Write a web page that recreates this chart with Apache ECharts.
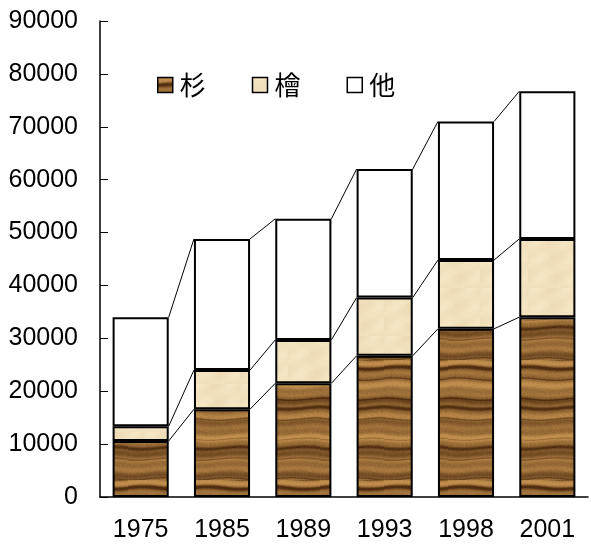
<!DOCTYPE html>
<html>
<head>
  <meta charset="utf-8">
  <title>ECharts</title>
  <script src="https://cdn.jsdelivr.net/npm/echarts@6/dist/echarts.min.js"></script>
</head>
<style>
  * { padding: 0; margin: 0; }
  #main { width: 591px; height: 544px; background: #fff; }
</style>
<body>
  <div id="main"></div>
  <script type="text/javascript">
    // data
    var years = ['1975', '1985', '1989', '1993', '1998', '2001'];
    var sugi = [10600, 16600, 21500, 26700, 31800, 34000];
    var hinoki = [2800, 7400, 8200, 11000, 13000, 14800];
    var other = [20600, 24800, 22900, 24300, 26200, 27900];

    // small deterministic noise for textures
    function hash(n) {
      var s = Math.sin(n * 127.1 + 311.7) * 43758.5453;
      return s - Math.floor(s);
    }

    // wood grain texture (杉)
    function woodPattern() {
      var c = document.createElement('canvas');
      c.width = 64; c.height = 120;
      var ctx = c.getContext('2d');
      for (var y = 0; y < c.height; y++) {
        for (var x = 0; x < c.width; x++) {
          var yy = y + 1.2 * Math.sin(x / 11 + y / 25);
          var band = 0.6 + 0.15 * Math.sin(yy / 1.7) + 0.18 * Math.sin(yy / 4.1 + 1.3) + 0.1 * Math.sin(yy / 9.5);
          var dark = Math.pow(Math.max(0, Math.sin(yy / 6.37 + 0.4)), 20) * 0.7 +
                     Math.pow(Math.max(0, Math.sin(yy / 3.18 + 2.0)), 30) * 0.35;
          var n = hash(x * 0.13 + y * 7.1) * 0.12;
          var k = Math.min(1, Math.max(0, band + n - dark));
          var r = Math.round(80 + 112 * k);
          var g = Math.round(45 + 97 * k);
          var b = Math.round(15 + 62 * k);
          ctx.fillStyle = 'rgb(' + r + ',' + g + ',' + b + ')';
          ctx.fillRect(x, y, 1, 1);
        }
      }
      return c;
    }

    // light beige mottled texture (檜)
    function beigePattern() {
      var c = document.createElement('canvas');
      c.width = 48; c.height = 48;
      var ctx = c.getContext('2d');
      for (var y = 0; y < c.height; y++) {
        for (var x = 0; x < c.width; x++) {
          var n = hash(x * 3.7 + y * 11.3) * 0.5 + 0.5 * Math.sin(x / 5 + y / 7) * Math.cos(y / 6);
          var r = Math.round(240 + 6 * n);
          var g = Math.round(222 + 10 * n);
          var b = Math.round(186 + 14 * n);
          ctx.fillStyle = 'rgb(' + r + ',' + g + ',' + b + ')';
          ctx.fillRect(x, y, 1, 1);
        }
      }
      return c;
    }

    var woodFill = { image: woodPattern(), repeat: 'repeat' };
    var beigeFill = { image: beigePattern(), repeat: 'repeat' };

    // cumulative tops for series lines
    var cum1 = sugi.slice();
    var cum2 = sugi.map(function (v, i) { return v + hinoki[i]; });
    var cum3 = cum2.map(function (v, i) { return v + other[i]; });
    var lineData = [];
    [cum1, cum2, cum3].forEach(function (arr) {
      for (var i = 0; i < arr.length - 1; i++) {
        lineData.push([i, arr[i], arr[i + 1]]);
      }
    });

    var barRatio = 0.69;
    var textFont = 'Liberation Sans, Arial, sans-serif';

    var option = {
      animation: false,
      grid: { left: 100, right: 3, top: 21, bottom: 47 },
      legend: {
        data: ['杉', '檜', '他'],
        left: 152,
        top: 67,
        itemWidth: 15,
        itemHeight: 15,
        itemGap: 46,
        icon: 'rect',
        textStyle: { fontSize: 26, color: '#000', fontFamily: 'Noto Sans CJK JP', padding: [0, 0, 0, 2] },
        itemStyle: { borderColor: '#000', borderWidth: 1.5 }
      },
      xAxis: {
        type: 'category',
        data: years,
        axisLine: { lineStyle: { color: '#000', width: 1.5 } },
        axisTick: { inside: true, length: 8, lineStyle: { color: '#000' } },
        axisLabel: { fontSize: 25, color: '#000', margin: 21, fontFamily: textFont }
      },
      yAxis: {
        type: 'value',
        min: 0,
        max: 90000,
        interval: 10000,
        axisLine: { show: true, lineStyle: { color: '#000', width: 1.5 } },
        axisTick: { show: true, inside: true, length: 8, lineStyle: { color: '#000' } },
        splitLine: { show: false },
        axisLabel: {
          fontSize: 25, color: '#000', margin: 22, fontFamily: textFont,
          formatter: function (v) { return String(v); }
        }
      },
      series: [
        {
          name: '杉', type: 'bar', stack: 'a', data: sugi, barWidth: (barRatio * 100) + '%',
          itemStyle: { color: woodFill, borderColor: '#000', borderWidth: 2 }
        },
        {
          name: '檜', type: 'bar', stack: 'a', data: hinoki,
          itemStyle: { color: beigeFill, borderColor: '#000', borderWidth: 2 }
        },
        {
          name: '他', type: 'bar', stack: 'a', data: other,
          itemStyle: { color: '#fff', borderColor: '#000', borderWidth: 2 }
        },
        {
          name: 'lines', type: 'custom', data: lineData, z: 1,
          encode: { x: 0, y: 1 },
          renderItem: function (params, api) {
            var i = api.value(0);
            var w = api.size([1, 0])[0] * barRatio;
            var p0 = api.coord([i, api.value(1)]);
            var p1 = api.coord([i + 1, api.value(2)]);
            return {
              type: 'line',
              shape: { x1: p0[0] + w / 2, y1: p0[1], x2: p1[0] - w / 2, y2: p1[1] },
              style: { stroke: '#000', lineWidth: 1 }
            };
          }
        }
      ]
    };

    var myChart = echarts.init(document.getElementById('main'));
    myChart.setOption(option);
  </script>
</body>
</html>
